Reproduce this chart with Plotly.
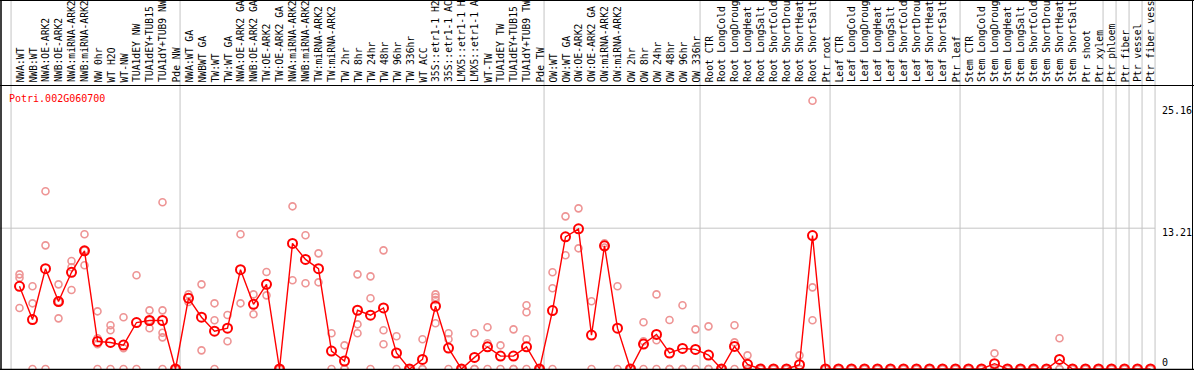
import plotly.graph_objects as go

title_text = "Potri.002G060700"

categories = [
    "NWA:WT", "NWB:WT", "NWA:OE-ARK2", "NWB:OE-ARK2", "NWA:miRNA-ARK2", "NWB:miRNA-ARK2",
    "NW 0hr", "WT H2O", "WT-NW", "TUA1dEY NW", "TUA1dEY+TUB15", "TUA1dY+TUB9 NW", "Pde NW",
    "NWA:WT GA", "NWBWT GA", "TW:WT", "TW:WT GA", "NWA:OE-ARK2 GA", "NWB:OE-ARK2 GA",
    "TW:OE-ARK2", "TW:OE-ARK2 GA", "NWA:miRNA-ARK2", "NWB:miRNA-ARK2", "TW:miRNA-ARK2",
    "TW:miRNA-ARK2", "TW 2hr", "TW 8hr", "TW 24hr", "TW 48hr", "TW 96hr", "TW 336hr",
    "WT ACC", "35S::etr1-1 H2", "35S::etr1-1 AC", "LMX5::etr1-1 H", "LMX5::etr1-1 A",
    "WT-TW", "TUA1dEY TW", "TUA1dEY+TUB15", "TUA1dY+TUB9 TW", "Pde TW",
    "OW:WT", "OW:WT GA", "OW:OE-ARK2", "OW:OE-ARK2 GA", "OW:miRNA-ARK2", "OW:miRNA-ARK2",
    "OW 2hr", "OW 8hr", "OW 24hr", "OW 48hr", "OW 96hr", "OW 336hr",
    "Root CTR", "Root LongCold", "Root LongDroug", "Root LongHeat", "Root LongSalt",
    "Root ShortCold", "Root ShortDrou", "Root ShortHeat", "Root ShortSalt", "Ptr root",
    "Leaf CTR", "Leaf LongCold", "Leaf LongDroug", "Leaf LongHeat", "Leaf LongSalt",
    "Leaf ShortCold", "Leaf ShortDrou", "Leaf ShortHeat", "Leaf ShortSalt", "Ptr leaf",
    "Stem CTR", "Stem LongCold", "Stem LongDroug", "Stem LongHeat", "Stem LongSalt",
    "Stem ShortCold", "Stem ShortDrou", "Stem ShortHeat", "Stem ShortSalt", "Ptr shoot",
    "Ptr xylem", "Ptr phloem", "Ptr fiber", "Ptr vessel", "Ptr fiber vess",
]

mean_values = [
    7.76, 4.64, 9.41, 6.33, 9.07, 11.09, 2.59, 2.49, 2.24, 4.36, 4.55, 4.55, 0,
    6.64, 4.86, 3.55, 3.83, 9.32, 6.07, 7.94, 0, 11.78, 10.28, 9.41, 1.68, 0.75, 5.51,
    5.05, 5.73, 1.50, 0, 0.90, 5.89, 1.96, 0, 1.09, 2.08, 1.21, 1.21, 2.08, 0,
    5.48, 12.40, 13.15, 3.18, 11.56, 3.83, 0, 2.34, 3.24, 1.50, 1.93, 1.84,
    1.31, 0, 2.12, 0.44, 0, 0, 0, 0.40, 12.52, 0,
    0, 0, 0, 0, 0, 0, 0, 0, 0, 0,
    0, 0, 0.50, 0, 0, 0, 0, 0.90, 0, 0,
    0, 0, 0, 0, 0,
]

N = None
rep_a = [
    8.88, 7.76, 16.67, 7.94, 10.13, 12.64, 5.41, 4.10, 4.85, 8.79, 5.5, 15.64, 0,
    7.0, 7.94, 6.16, 5.07, 12.64, 7.0, 9.1, 0, 15.26, 12.54, 10.85, 3.35, 2.22, 8.88,
    8.69, 11.13, 3.07, 0, 2.79, 7.0, 3.35, 0, 3.35, 3.91, 2.22, 3.72, 5.98, 0,
    9.07, 14.32, 15.07, 6.35, 11.8, 7.76, 0, 4.38, 7.0, 4.6, 5.98, 3.72,
    4.0, 0, 4.1, 1.28, 0, 0, 0, 1.28, 25.16, 0,
    0, 0, 0, 0, 0, 0, 0, 0, 0, 0,
    0, 0, 1.47, 0, 0, 0, 0, 2.88, 0, 0,
    0, 0, 0, 0, 0,
]
rep_b = [
    8.56, 6.16, 11.6, 4.75, 9.54, 11.13, 2.88, 3.63, 1.94, 0, 4.57, 5.5, 0,
    6.28, 1.75, 4.57, 2.6, 6.16, 5.13, 6.91, 0, 8.32, 8.04, 8.13, 0, 0, 4.19,
    6.63, 3.63, 0, 0, 0, 6.73, 2.79, 0, 0, 2.41, 0, 0, 5.32, 0,
    7.57, 10.67, 11.32, 0, 11.4, 0, 0, 2.6, 2.69, 0, 0, 0,
    0, 0, 2.5, 0, 0, 0, 0, 0, 7.66, 0,
    0, 0, 0, 0, 0, 0, 0, 0, 0, 0,
    0, 0, 0, 0, 0, 0, 0, 0, 0, 0,
    0, 0, 0, 0, 0,
]
rep_c = [
    5.72, 0, 0, 6.3, 7.41, 9.73, 2.32, 0, 0, N, 3.82, 3.4, 0,
    N, N, 0, N, N, N, N, 0, N, N, N, N, 0, 3.35,
    0, 2.32, N, 0, 0, 6.47, 0, 0, 0, 0, N, 0, 2.79, 0,
    0, N, N, N, N, N, 0, 0, 0, 0, 0, N,
    0, 0, 0, 0, 0, 0, 0, 0, 4.57, 0,
    0, 0, 0, 0, 0, 0, 0, 0, 0, 0,
    0, 0, 0, 0, 0, 0, 0, 0, 0, 0,
    0, 0, 0, 0, 0,
]
rep_d = [
    N, N, N, N, N, N, 0, N, N, N, N, 2.97, N,
    N, N, N, N, N, N, N, N, N, N, N, N, N, N,
    N, N, N, N, N, 4.29, N, N, N, N, N, N, 0, N,
    N, N, N, N, N, N, N, N, N, N, N, N,
    N, N, N, N, N, N, N, N, N, N,
    N, N, N, N, N, N, N, N, N, N,
    N, N, N, N, N, N, N, N, N, N,
    N, N, N, N, N,
]
rep_e = [
    N, N, N, N, N, N, N, N, N, N, N, 0, N,
    N, N, N, N, N, N, N, N, N, N, N, N, N, N,
    N, N, N, N, N, N, N, N, N, N, N, N, N, N,
    N, N, N, N, N, N, N, N, N, N, N, N,
    N, N, N, N, N, N, N, N, N, N,
    N, N, N, N, N, N, N, N, N, N,
    N, N, N, N, N, N, N, N, N, N,
    N, N, N, N, N,
]

y_ticks = [0, 13.21, 25.16]
grid_value = 13.21
# index (0-based) of the last category of each group; a separator follows it
group_ends = [-1, 12, 40, 52, 62, 72, 83, 84, 85, 86, 87]

# ---- geometry ----
W, H = 1194, 370
CAT_PX = 13.0
X0_PX = 19.5
ZERO_PX = 369.0
PX_PER_UNIT = 10.66
LABEL_BAND = 85.5

x_range = [-X0_PX / CAT_PX, (W - X0_PX) / CAT_PX]
y_range = [-(H - ZERO_PX) / PX_PER_UNIT, ZERO_PX / PX_PER_UNIT]

def py(px):  # pixel from top -> paper y
    return 1 - px / H

def pxx(px):
    return px / W

idx = list(range(len(categories)))

rx, ry = [], []
for reps in (rep_a, rep_b, rep_c, rep_d, rep_e):
    for i, v in zip(idx, reps):
        if v is not None:
            rx.append(i)
            ry.append(v)

fig = go.Figure()
fig.add_trace(go.Scatter(
    x=rx, y=ry, mode="markers",
    marker=dict(symbol="circle-open", size=7, color="#ee9494", line=dict(width=1.6, color="#ee9494")),
    hoverinfo="skip", showlegend=False,
))
fig.add_trace(go.Scatter(
    x=idx, y=mean_values, mode="lines+markers",
    line=dict(color="#ff0000", width=1.4),
    marker=dict(symbol="circle-open", size=9, color="#ff0000", line=dict(width=2, color="#ff0000")),
    showlegend=False,
))

shapes = []
GRAY = "#c4c4c4"
for g in group_ends:
    shapes.append(dict(type="line", xref="x", yref="paper", x0=g + 0.35, x1=g + 0.35,
                       y0=py(369), y1=1, line=dict(color=GRAY, width=1), layer="below"))
shapes.append(dict(type="line", xref="paper", yref="y", x0=0, x1=(X0_PX + CAT_PX * (group_ends[-1] + 0.35)) / W,
                   y0=grid_value, y1=grid_value, line=dict(color=GRAY, width=1), layer="below"))
# black frame
BLK = "#000000"
shapes += [
    dict(type="line", xref="paper", yref="paper", x0=0, x1=1, y0=py(0.5), y1=py(0.5), line=dict(color=BLK, width=1)),
    dict(type="line", xref="paper", yref="paper", x0=0, x1=1, y0=py(LABEL_BAND), y1=py(LABEL_BAND), line=dict(color=BLK, width=1)),
    dict(type="line", xref="paper", yref="paper", x0=0, x1=1, y0=py(369.5), y1=py(369.5), line=dict(color=BLK, width=1.5)),
    dict(type="line", xref="paper", yref="paper", x0=pxx(1), x1=pxx(1), y0=0, y1=1, line=dict(color=BLK, width=1.5)),
    dict(type="line", xref="paper", yref="paper", x0=pxx(1192.5), x1=pxx(1192.5), y0=0, y1=1, line=dict(color=BLK, width=1)),
]

annotations = []
FONT = "DejaVu Sans Mono"
for i, lab in zip(idx, categories):
    annotations.append(dict(
        x=i, xref="x", y=py(83.5), yref="paper", text=lab, textangle=-90,
        xanchor="center", yanchor="bottom", showarrow=False,
        font=dict(family=FONT, size=9.7, color="#000000"), borderpad=0,
    ))
annotations.append(dict(
    x=pxx(8), xref="paper", y=py(99), yref="paper", text=title_text,
    xanchor="left", yanchor="middle", showarrow=False,
    font=dict(family=FONT, size=10, color="#ff0000"), borderpad=0,
))
tick_shift = {0: 7, 13.21: -4, 25.16: -10}
for t in y_ticks:
    annotations.append(dict(
        x=pxx(1161), xref="paper", y=t, yref="y", text=f"{t:g}",
        xanchor="left", yanchor="middle", yshift=tick_shift[t], showarrow=False,
        font=dict(family=FONT, size=10, color="#000000"), borderpad=0,
    ))

fig.update_layout(
    width=W, height=H, autosize=False,
    margin=dict(l=0, r=0, t=0, b=0, pad=0),
    paper_bgcolor="white", plot_bgcolor="white",
    xaxis=dict(range=x_range, visible=False, fixedrange=True),
    yaxis=dict(range=y_range, visible=False, fixedrange=True),
    shapes=shapes, annotations=annotations,
    showlegend=False,
)

fig.write_html(
    "out.html",
    config={"displayModeBar": False},
    post_script="document.body.style.margin='0';document.body.style.overflow='hidden';",
)
